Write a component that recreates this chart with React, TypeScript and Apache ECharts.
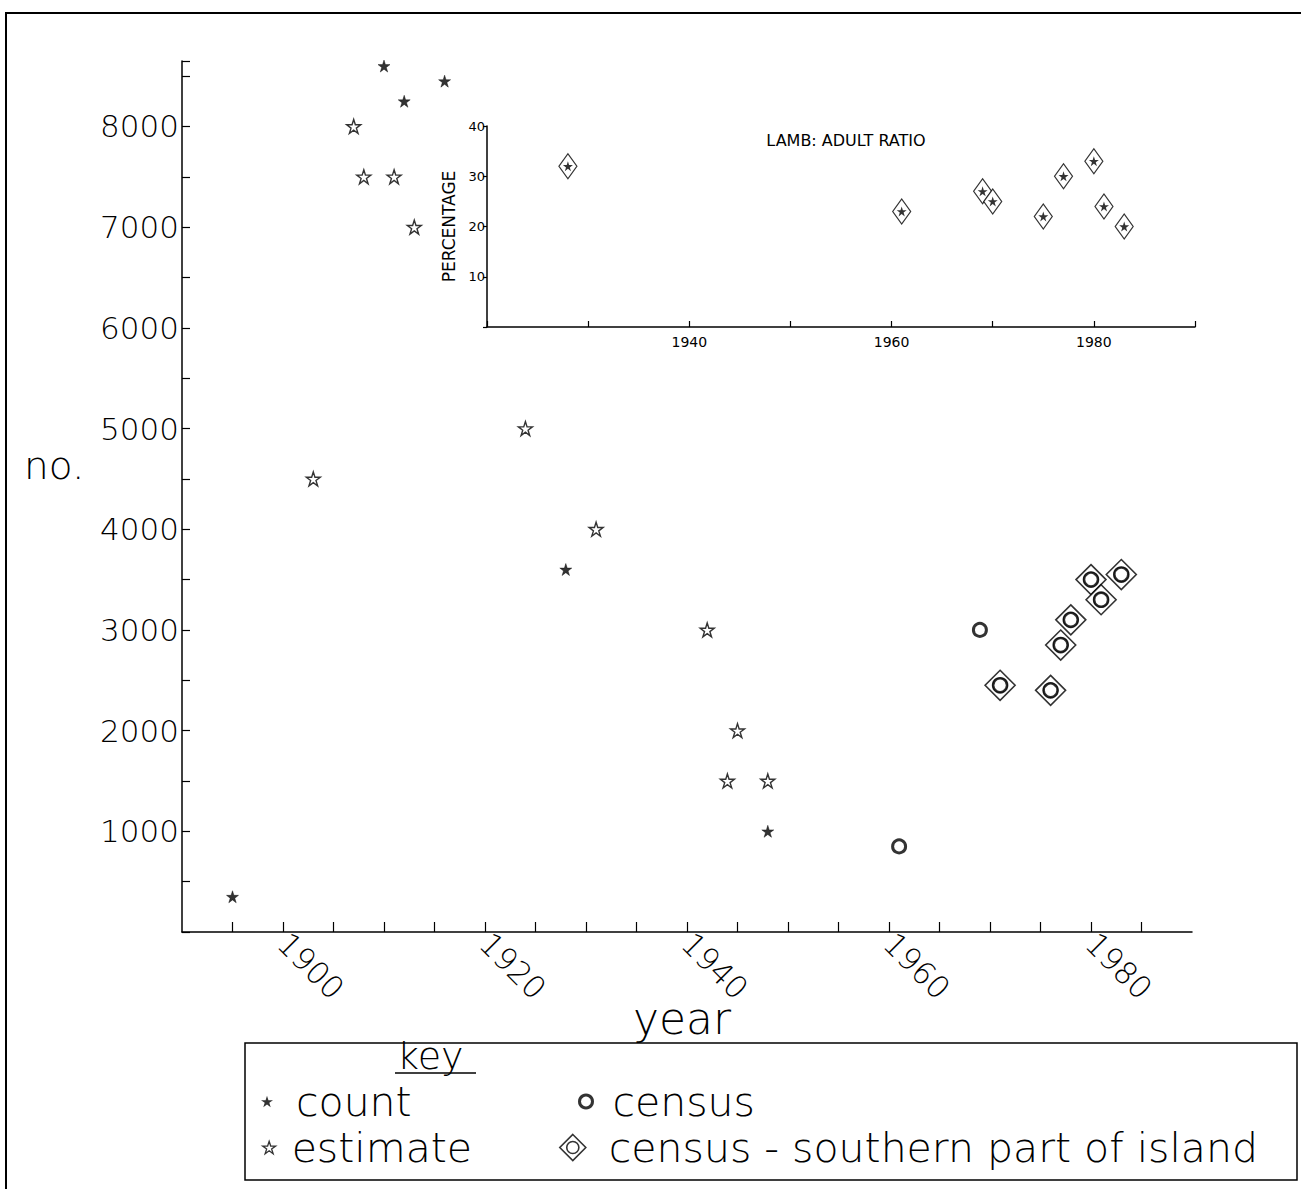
import React, { useEffect, useRef } from 'react';
import * as echarts from 'echarts';

// ---- data ----
const countYears = [1895, 1910, 1912, 1916, 1928, 1948];
const countValues = [350, 8600, 8250, 8450, 3600, 1000];

const estimateYears = [1903, 1907, 1908, 1911, 1913, 1924, 1931, 1942, 1944, 1945, 1948];
const estimateValues = [4500, 8000, 7500, 7500, 7000, 5000, 4000, 3000, 1500, 2000, 1500];

const censusYears = [1961, 1969];
const censusValues = [850, 3000];

const southernYears = [1971, 1976, 1977, 1978, 1980, 1981, 1983];
const southernValues = [2450, 2400, 2850, 3100, 3500, 3300, 3550];

const ratioYears = [1928, 1961, 1969, 1970, 1975, 1977, 1980, 1981, 1983];
const ratioValues = [32, 23, 27, 25, 22, 30, 33, 24, 20];

const mainYearLabels = [1900, 1920, 1940, 1960, 1980];
const insetYearLabels = [1940, 1960, 1980];

const FONT = 'DejaVu Sans';
const W = 200;
const STAR =
  'path://M0,-10L2.25,-3.09L9.51,-3.09L3.63,1.18L5.88,8.09L0,3.82L-5.88,8.09L-3.63,1.18L-9.51,-3.09L-2.25,-3.09Z';
const DIAMOND_RING = 'path://M0,-15L15,0L0,15L-15,0Z M7,0A7,7,0,1,1,-7,0A7,7,0,1,1,7,0Z';

const pairs = (xs: number[], ys: number[]) => xs.map((x, i) => [x, ys[i]]);

export default function App() {
  const ref = useRef<HTMLDivElement>(null);
  useEffect(() => {
    const chart = echarts.init(ref.current!, null, { renderer: 'svg' });
    const axisLine = { show: true, onZero: false, lineStyle: { color: '#000', width: 1.5 } };
    const legendText = (pad: number) => ({
      fontFamily: FONT,
      fontWeight: W,
      fontSize: 41,
      lineHeight: 40,
      color: '#000',
      padding: [0, 0, 0, pad],
    });
    const option: any = {
      animation: false,
      backgroundColor: '#fff',
      grid: [
        { left: 182, top: 61, width: 1010, height: 871 },
        { left: 487, top: 126, width: 708, height: 201 },
      ],
      xAxis: [
        {
          type: 'value',
          gridIndex: 0,
          min: 1890,
          max: 1990,
          interval: 5,
          axisLine,
          axisTick: { show: true, inside: true, length: 10, lineStyle: { color: '#000', width: 1.2 } },
          splitLine: { show: false },
          axisLabel: {
            rotate: -45,
            margin: 6,
            fontFamily: FONT,
            fontWeight: W,
            fontSize: 31,
            color: '#000',
            showMinLabel: false,
            showMaxLabel: false,
            formatter: (v: number) => (mainYearLabels.includes(v) ? String(v) : ''),
          },
        },
        {
          type: 'value',
          gridIndex: 1,
          min: 1920,
          max: 1990,
          interval: 10,
          axisLine,
          axisTick: { show: true, inside: true, length: 6, lineStyle: { color: '#000', width: 1.2 } },
          splitLine: { show: false },
          axisLabel: {
            margin: 8,
            fontFamily: FONT,
            fontSize: 14,
            color: '#000',
            formatter: (v: number) => (insetYearLabels.includes(v) ? String(v) : ''),
          },
        },
      ],
      yAxis: [
        {
          type: 'value',
          gridIndex: 0,
          min: 0,
          max: 8650,
          interval: 500,
          axisLine,
          axisTick: { show: true, inside: true, length: 8, lineStyle: { color: '#000', width: 1.2 } },
          splitLine: { show: false },
          axisLabel: {
            margin: 3,
            fontFamily: FONT,
            fontWeight: W,
            fontSize: 31,
            color: '#000',
            formatter: (v: number) => (v > 0 && v % 1000 === 0 ? String(v) : ''),
          },
        },
        {
          type: 'value',
          gridIndex: 1,
          min: 0,
          max: 40,
          interval: 10,
          axisLine,
          axisTick: { show: true, inside: false, length: 4, lineStyle: { color: '#000', width: 1.2 } },
          splitLine: { show: false },
          axisLabel: {
            margin: 2,
            fontFamily: FONT,
            fontSize: 13,
            color: '#000',
            formatter: (v: number) => (v > 0 ? String(v) : ''),
          },
          name: 'PERCENTAGE',
          nameLocation: 'middle',
          nameGap: 27,
          nameRotate: 90,
          nameTextStyle: { fontFamily: FONT, fontSize: 17, color: '#000' },
        },
      ],
      legend: [
        {
          data: ['count'], left: 256, top: 1076, itemWidth: 12, itemHeight: 12,
          selectedMode: false, textStyle: legendText(18),
          itemStyle: { color: '#000', borderWidth: 0 },
        },
        {
          data: ['estimate'], left: 257, top: 1122, itemWidth: 13, itemHeight: 13,
          selectedMode: false, textStyle: legendText(11),
          itemStyle: { color: '#fff', borderColor: '#000', borderWidth: 1.3 },
        },
        {
          data: ['census'], left: 573, top: 1076, itemWidth: 13, itemHeight: 13,
          selectedMode: false, textStyle: legendText(15),
          itemStyle: { color: '#fff', borderColor: '#000', borderWidth: 3 },
        },
        {
          data: ['census - southern part of island'], left: 554, top: 1122, itemWidth: 26, itemHeight: 28,
          selectedMode: false, textStyle: legendText(18),
          itemStyle: { color: '#fff', borderColor: '#000', borderWidth: 1.6 },
        },
      ],
      series: [
        {
          name: 'count',
          type: 'scatter',
          xAxisIndex: 0,
          yAxisIndex: 0,
          symbol: STAR,
          symbolSize: 12,
          itemStyle: { color: '#000', borderColor: '#000', borderWidth: 0.5 },
          data: pairs(countYears, countValues),
        },
        {
          name: 'estimate',
          type: 'scatter',
          xAxisIndex: 0,
          yAxisIndex: 0,
          symbol: STAR,
          symbolSize: 14,
          itemStyle: { color: '#fff', borderColor: '#000', borderWidth: 1.4 },
          data: pairs(estimateYears, estimateValues),
        },
        {
          name: 'census',
          type: 'scatter',
          xAxisIndex: 0,
          yAxisIndex: 0,
          symbol: 'circle',
          symbolSize: 13,
          itemStyle: { color: '#fff', borderColor: '#000', borderWidth: 3 },
          data: pairs(censusYears, censusValues),
        },
        {
          name: 'census - southern part of island',
          type: 'scatter',
          xAxisIndex: 0,
          yAxisIndex: 0,
          symbol: DIAMOND_RING,
          symbolSize: 30,
          itemStyle: { color: '#fff', borderColor: '#000', borderWidth: 1.6 },
          data: pairs(southernYears, southernValues),
        },
        {
          name: 'southern-ring',
          type: 'scatter',
          xAxisIndex: 0,
          yAxisIndex: 0,
          silent: true,
          symbol: 'circle',
          symbolSize: 14,
          itemStyle: { color: '#fff', borderColor: '#000', borderWidth: 2.6 },
          data: pairs(southernYears, southernValues),
        },
        {
          name: 'ratio-diamond',
          type: 'scatter',
          xAxisIndex: 1,
          yAxisIndex: 1,
          symbol: 'diamond',
          symbolSize: [18, 25],
          itemStyle: { color: '#fff', borderColor: '#000', borderWidth: 1.2 },
          data: pairs(ratioYears, ratioValues),
        },
        {
          name: 'ratio-star',
          type: 'scatter',
          xAxisIndex: 1,
          yAxisIndex: 1,
          symbol: STAR,
          symbolSize: 10,
          itemStyle: { color: '#000' },
          data: pairs(ratioYears, ratioValues),
        },
      ],
      graphic: [
        { type: 'line', shape: { x1: 5, y1: 13, x2: 1301, y2: 13 }, style: { stroke: '#000', lineWidth: 2 } },
        { type: 'line', shape: { x1: 6, y1: 13, x2: 6, y2: 1189 }, style: { stroke: '#000', lineWidth: 2 } },
        {
          type: 'rect',
          shape: { x: 245, y: 1043, width: 1052, height: 137 },
          style: { fill: 'none', stroke: '#000', lineWidth: 1.5 },
        },
        {
          type: 'text',
          x: 24,
          y: 465,
          style: {
            text: 'no.', fontFamily: FONT, fontWeight: W, fontSize: 39, fill: '#000',
            align: 'left', verticalAlign: 'middle',
          },
        },
        {
          type: 'text',
          x: 682,
          y: 1018,
          style: {
            text: 'year', fontFamily: FONT, fontWeight: W, fontSize: 44, fill: '#000',
            align: 'center', verticalAlign: 'middle',
          },
        },
        {
          type: 'text',
          x: 846,
          y: 140,
          style: {
            text: 'LAMB: ADULT RATIO',
            fontFamily: FONT,
            fontSize: 16,
            fill: '#000',
            align: 'center',
            verticalAlign: 'middle',
          },
        },
        {
          type: 'text',
          x: 397,
          y: 1056,
          style: {
            text: 'key', fontFamily: FONT, fontWeight: W, fontSize: 38, fill: '#000',
            align: 'left', verticalAlign: 'middle',
          },
        },
        { type: 'line', shape: { x1: 395, y1: 1073, x2: 476, y2: 1073 }, style: { stroke: '#000', lineWidth: 1.5 } },
      ],
    };
    chart.setOption(option);
    return () => chart.dispose();
  }, []);
  return (
    <div
      ref={ref}
      style={{ position: 'absolute', left: 0, top: 0, width: 1301, height: 1189, background: '#fff' }}
    />
  );
}
